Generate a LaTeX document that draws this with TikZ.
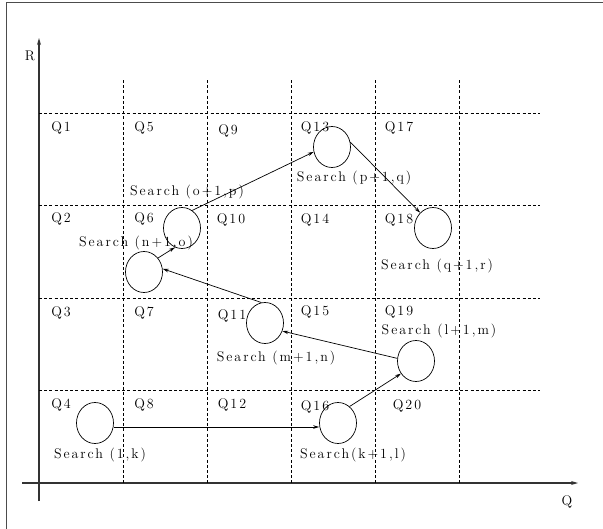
\documentclass[tikz,border=0pt]{standalone}
\usepackage{fontspec}
\setmainfont{Latin Modern Roman}[LetterSpace=14]
\usetikzlibrary{arrows.meta,shapes.geometric}
\begin{document}
\begin{tikzpicture}[x=1pt,y=-1pt,
  grid/.style={dashed,dash pattern=on 3pt off 2.2pt,line width=0.7pt},
  axis/.style={line width=1.1pt,draw=black!80,-{Stealth[length=7pt,width=4pt]}},
  qlab/.style={font=\fontsize{14}{16}\selectfont,inner sep=0pt},
  slab/.style={font=\fontsize{14}{16}\selectfont,inner sep=0pt},
  blob/.style={draw,ellipse,minimum width=37pt,minimum height=41pt,inner sep=0pt,line width=0.7pt},
  link/.style={line width=0.7pt,-{Stealth[length=6pt,width=3.5pt]}}]
\useasboundingbox (0,0) rectangle (603,528);
\draw[draw=black!70,line width=1pt] (6,2) rectangle (610,540);
% axes
\coordinate (yb) at (39,501);
\coordinate (yt) at (39,38);
\coordinate (xl) at (22,483);
\coordinate (xr) at (578,483);
\draw[axis] (yb) -- (yt);
\draw[axis] (xl) -- (xr);
\node[qlab] (R) at (30,56) {R};
\node[qlab] (Q) at (567,502) {Q};
% grid
\foreach \x in {123,207,291,375,459} \draw[grid] (\x,80) -- (\x,483);
\foreach \y in {113,205,298,390} \draw[grid] (39,\y) -- (540,\y);
% Q labels
\node[qlab] (q1) at (61,128) {Q1};
\node[qlab] (q5) at (144,128) {Q5};
\node[qlab] (q9) at (228,131) {Q9};
\node[qlab] (q13) at (315,128) {Q13};
\node[qlab] (q17) at (399,128) {Q17};
\node[qlab] (q2) at (61,219) {Q2};
\node[qlab] (q6) at (144,219) {Q6};
\node[qlab] (q10) at (231,220) {Q10};
\node[qlab] (q14) at (315,220) {Q14};
\node[qlab] (q18) at (399,220) {Q18};
\node[qlab] (q3) at (61,313) {Q3};
\node[qlab] (q7) at (144,313) {Q7};
\node[qlab] (q11) at (232,316) {Q11};
\node[qlab] (q15) at (315,312) {Q15};
\node[qlab] (q19) at (399,312) {Q19};
\node[qlab] (q4) at (61,405) {Q4};
\node[qlab] (q8) at (144,405) {Q8};
\node[qlab] (q12) at (232,405) {Q12};
\node[qlab] (q16) at (315,407) {Q16};
\node[qlab] (q20) at (407,406) {Q20};
% circles
\node[blob] (c1) at (95,423) {};
\node[blob] (c2) at (338,423) {};
\node[blob] (c3) at (416,361) {};
\node[blob] (c4) at (265,323) {};
\node[blob] (c5) at (144,272) {};
\node[blob] (c6) at (182,228) {};
\node[blob] (c7) at (332,147) {};
\node[blob] (c8) at (433,228) {};
% search labels
\node[slab] (s1) at (100,455) {Search (1,k)};
\node[slab] (s2) at (353,455) {Search(k+1,l)};
\node[slab] (s3) at (439,331) {Search (l+1,m)};
\node[slab] (s4) at (276,358) {Search (m+1,n)};
\node[slab] (s5) at (136,243) {Search (n+1,o)};
\node[slab] (s6) at (187,192) {Search (o+1,p)};
\node[slab] (s7) at (354,178) {Search (p+1,q)};
\node[slab] (s8) at (437,266) {Search (q+1,r)};
% links
\draw[link] (c1.east |- 0,427) -- (c2.west |- 0,427);
\draw[link] (c2.55) -- (c3.220);
\draw[link] (c3.172) -- (c4.-25);
\draw[link] (c4.100) -- (c5.10);
\draw[link] (c5.45) -- (c6.250);
\draw[link] (c6.60) -- (c7.195);
\draw[link] (c7.15) -- (c8.130);
\end{tikzpicture}
\end{document}
